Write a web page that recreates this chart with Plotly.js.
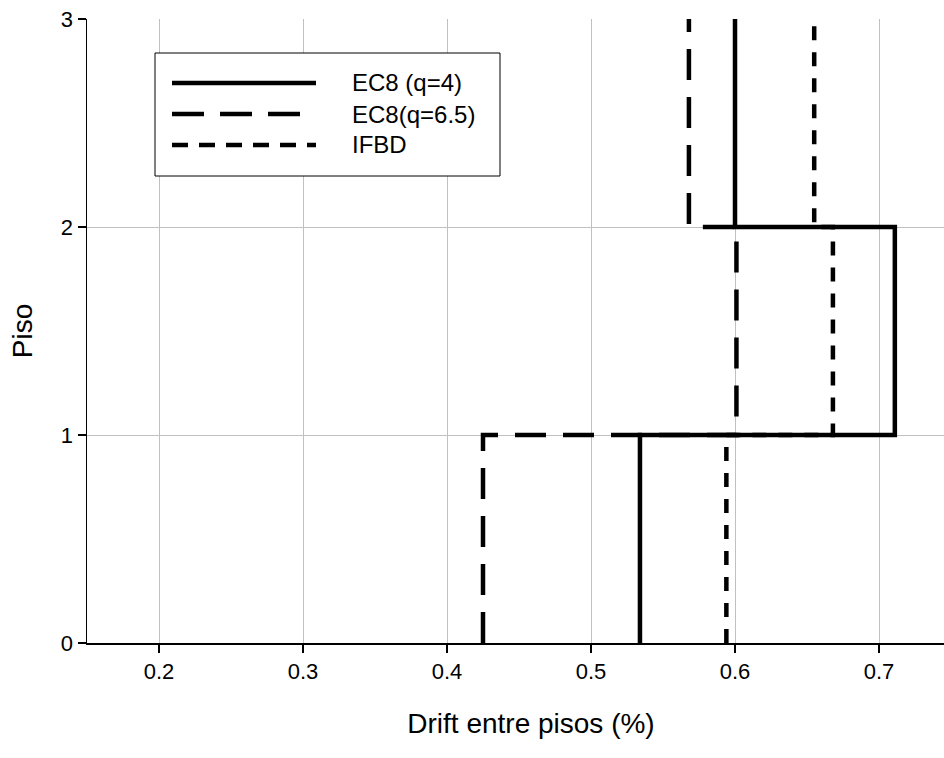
<!DOCTYPE html>
<html>
<head>
<meta charset="utf-8">
<script src="https://cdn.plot.ly/plotly-3.0.1.min.js"></script>
<style>
  html, body { margin: 0; padding: 0; overflow: hidden; background: #fff; }
  #chart { width: 975px; height: 758px; }
</style>
</head>
<body>
<div id="chart"></div>
<script>
// Data: inter-storey drift (%) per storey (storey 1, 2, 3)
const floors = [0, 1, 2, 3];
const seriesNames = ['EC8 (q=4)', 'EC8(q=6.5)', 'IFBD'];
const driftEC8q4 = [0.534, 0.711, 0.600];
const driftEC8q65 = [0.425, 0.601, 0.568];
const driftIFBD = [0.594, 0.668, 0.655];
const xTicks = [0.2, 0.3, 0.4, 0.5, 0.6, 0.7];
const yTicks = [0, 1, 2, 3];

const dashes = ['solid', '31px,17px', '14px,12px'];
const legendDashes = ['solid', '32px,16px', '16px,11px'];

function stair(drift) {
  const x = [], y = [];
  for (let i = 0; i < drift.length; i++) {
    x.push(drift[i], drift[i]);
    y.push(floors[i], floors[i + 1]);
  }
  return {x, y};
}

const allSeries = [driftEC8q4, driftEC8q65, driftIFBD];
const order = [1, 2, 0];
const traces = order.map(i => {
  const s = stair(allSeries[i]);
  return {
    x: s.x, y: s.y, type: 'scatter', mode: 'lines', name: seriesNames[i],
    line: {color: '#000', width: 4.5, dash: dashes[i]},
    showlegend: false, hoverinfo: 'skip'
  };
});

// plot area in pixels
const L = 87, R = 975, T = 19, B = 643;
const px = v => (v - L) / (R - L);
const py = v => (B - v) / (B - T);

const shapes = [{
  type: 'rect', xref: 'paper', yref: 'paper',
  x0: px(155), x1: px(500), y0: py(176), y1: py(53),
  line: {color: '#000', width: 1}, fillcolor: '#fff', layer: 'above'
}];
const annotations = [];
const legendY = [83, 114, 145];
seriesNames.forEach((n, i) => {
  shapes.push({
    type: 'line', xref: 'paper', yref: 'paper',
    x0: px(172), x1: px(316), y0: py(legendY[i]), y1: py(legendY[i]),
    line: {color: '#000', width: 4.5, dash: legendDashes[i]}, layer: 'above'
  });
  annotations.push({
    xref: 'paper', yref: 'paper', x: px(350), y: py(legendY[i]),
    xanchor: 'left', yanchor: 'middle', text: n, showarrow: false,
    font: {family: 'Liberation Sans, Arial, sans-serif', size: 24, color: '#000'}
  });
});

const layout = {
  width: 975, height: 758,
  margin: {l: L, r: 975 - R, t: T, b: 758 - B},
  paper_bgcolor: '#fff', plot_bgcolor: '#fff',
  font: {family: 'Liberation Sans, Arial, sans-serif', color: '#000', size: 22},
  showlegend: false,
  xaxis: {
    range: [0.15, 0.15 + (R - L) / 1440],
    tickvals: xTicks, ticktext: xTicks.map(v => v.toFixed(1)),
    showgrid: true, gridcolor: '#c0c0c0', gridwidth: 1,
    zeroline: false, showline: true, linecolor: '#000', linewidth: 1.5,
    ticks: 'outside', ticklen: 8, tickcolor: '#000', tickwidth: 1.5,
    tickfont: {size: 22},
    title: {text: 'Drift entre pisos (%)', font: {size: 28}, standoff: 30}
  },
  yaxis: {
    range: [0, 3],
    tickvals: yTicks, ticktext: yTicks.map(String),
    showgrid: true, gridcolor: '#c0c0c0', gridwidth: 1,
    zeroline: false, showline: true, linecolor: '#000', linewidth: 1.5,
    ticks: 'outside', ticklen: 8, tickcolor: '#000', tickwidth: 1.5,
    tickfont: {size: 22},
    title: {text: 'Piso', font: {size: 28}, standoff: 20}
  },
  shapes: shapes,
  annotations: annotations
};

Plotly.newPlot('chart', traces, layout, {displayModeBar: false, staticPlot: true});
</script>
</body>
</html>
